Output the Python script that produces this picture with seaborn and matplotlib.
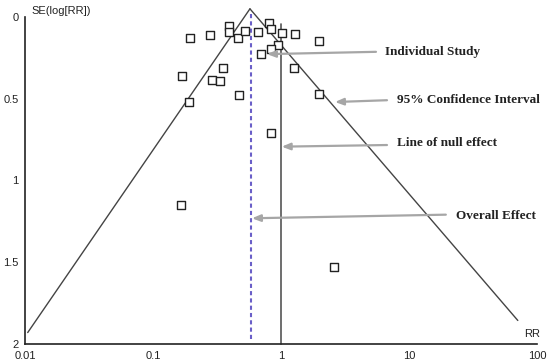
import numpy as np
import pandas as pd
import matplotlib
matplotlib.use('Agg')
import matplotlib.pyplot as plt
import seaborn as sns

# Études individuelles (RR, SE(log RR))
study_rr = [0.196, 0.277, 0.395, 0.395, 0.459, 0.519, 0.665, 0.810, 0.831, 1.01,
            1.29, 1.98, 0.942, 0.831, 0.700, 0.351, 1.27, 0.169, 0.291, 0.334,
            0.192, 0.472, 1.99, 0.835, 0.166, 2.58]
study_se = [0.127, 0.109, 0.057, 0.094, 0.131, 0.087, 0.091, 0.034, 0.071, 0.098,
            0.104, 0.144, 0.173, 0.195, 0.224, 0.309, 0.309, 0.362, 0.388, 0.394,
            0.520, 0.480, 0.474, 0.707, 1.147, 1.529]

# Effet global et limites de l'entonnoir
pooled_rr = 0.58
funnel_left_rr = [0.572, 0.0105]
funnel_left_se = [-0.05, 1.93]
funnel_right_rr = [0.572, 70.8]
funnel_right_se = [-0.05, 1.856]
null_rr = 1.0
null_se = [0.04, 2.0]
pooled_se = [-0.02, 1.98]

x_ticks = [0.01, 0.1, 1, 10, 100]
x_tick_labels = ['0.01', '0.1', '1', '10', '100']
y_ticks = [0, 0.5, 1, 1.5, 2]
y_tick_labels = ['0', '0.5', '1', '1.5', '2']

df = pd.DataFrame({'RR': study_rr, 'SE': study_se})

sns.set_style('white')
plt.rcParams['font.family'] = ['Liberation Sans', 'DejaVu Sans']

fig = plt.figure(figsize=(5.5, 3.63), dpi=100)
ax = fig.add_axes([0.04545, 0.05234, 0.93091, 0.90083])

# Lignes de l'entonnoir
ax.plot(funnel_left_rr, funnel_left_se, color='#444444', lw=1.0, clip_on=False)
ax.plot(funnel_right_rr, funnel_right_se, color='#444444', lw=1.0, clip_on=False)
ax.plot([null_rr, null_rr], null_se, color='#555555', lw=1.2, clip_on=False)
ax.plot([pooled_rr, pooled_rr], pooled_se, color='#6a5fc8', lw=1.5,
        linestyle=(0, (2, 1.5)), clip_on=False)

sns.scatterplot(data=df, x='RR', y='SE', marker='s', s=40, facecolor='white',
                edgecolor='#222222', linewidth=1.0, ax=ax, zorder=3, clip_on=False)

ax.set_xscale('log')
ax.set_xlim(0.01, 100)
ax.set_ylim(2, 0)
ax.set_xticks(x_ticks)
ax.set_xticklabels(x_tick_labels)
ax.set_yticks(y_ticks)
ax.set_yticklabels(y_tick_labels)
ax.minorticks_off()
ax.set_xlabel('')
ax.set_ylabel('')
sns.despine(ax=ax)
for side in ['left', 'bottom']:
    ax.spines[side].set_color('#222222')
    ax.spines[side].set_linewidth(1.2)
ax.tick_params(direction='inout', length=6.5, width=1.0, colors='#222222',
               labelsize=8, pad=1.5)

ax.text(0.0117, 1.018, 'SE(log[RR])', transform=ax.transAxes, fontsize=8,
        va='center', ha='left', color='#222222')
ax.text(0.99, 0.03, 'RR', transform=ax.transAxes, fontsize=8,
        va='center', ha='center', color='#222222')

# Annotations
notes = [
    ('Individual Study', (6.49, 0.215), (5.52, 0.213), (0.777, 0.227)),
    ('95% Confidence Interval', (8.06, 0.507), (6.73, 0.509), (2.64, 0.52)),
    ('Line of null effect', (8.06, 0.773), (6.73, 0.783), (1.013, 0.793)),
    ('Overall Effect', (23.3, 1.215), (19.4, 1.209), (0.593, 1.231)),
]
for label, text_pos, tail, tip in notes:
    ax.annotate('', xy=tip, xytext=tail,
                arrowprops=dict(arrowstyle='-|>,head_length=0.5,head_width=0.2',
                                color='#a6a6a6', lw=1.6, shrinkA=0, shrinkB=0))
    ax.text(text_pos[0], text_pos[1], label, fontsize=9.5, fontweight='bold',
            family=['Liberation Serif', 'DejaVu Serif'], va='center', ha='left',
            color='#222222')

fig.savefig('out.png', dpi=100)
